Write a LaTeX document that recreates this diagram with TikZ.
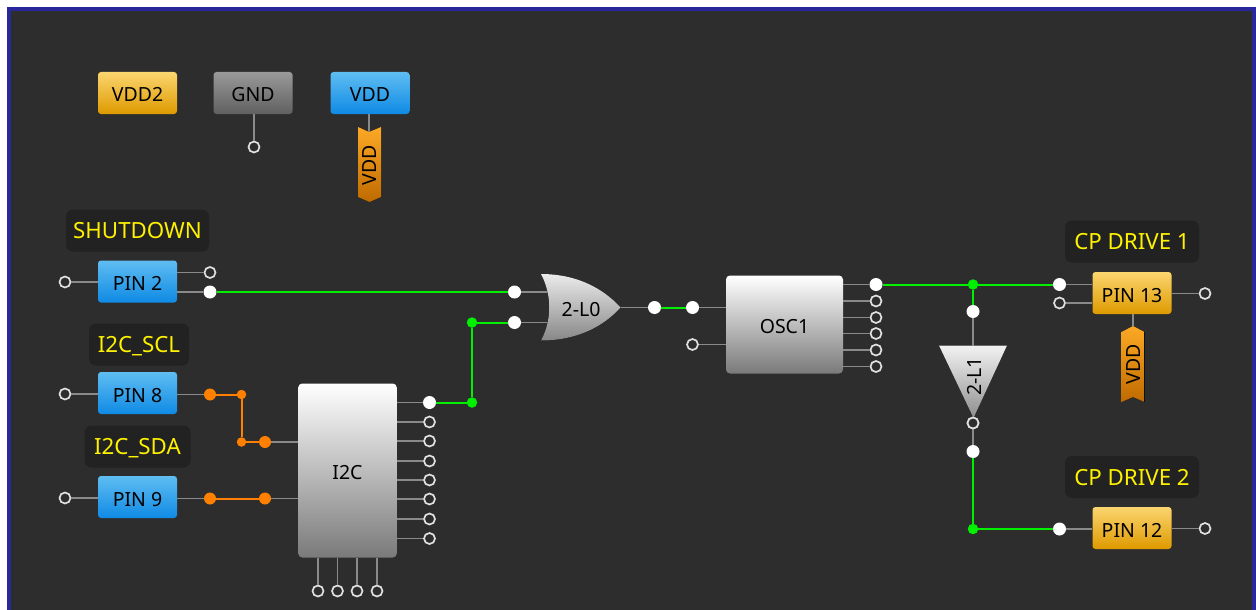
\documentclass[tikz,border=0pt]{standalone}
\usepackage{fontspec}
\setmainfont{Noto Sans}
\usetikzlibrary{calc}
\definecolor{bgc}{HTML}{2D2D2D}
\definecolor{frame}{HTML}{28289A}
\definecolor{tagc}{HTML}{222222}
\definecolor{wire}{HTML}{00F000}
\definecolor{owire}{HTML}{FF7F00}
\definecolor{stub}{HTML}{8A8A8A}
\tikzset{
 x=1pt,y=-1pt,
 rtxt/.style={font=\fontsize{19.5}{22}\selectfont,text=black,inner sep=0pt},
 txt/.style={rtxt,text height=18pt,text depth=0pt},
 boxbase/.style={rounded corners=3pt,minimum width=79pt,minimum height=42pt,inner sep=0pt,txt},
 bluebox/.style={boxbase,top color=bA,bottom color=bB,draw=none},
 orangebox/.style={boxbase,top color=oA,bottom color=oB,draw=none},
 greybox/.style={boxbase,top color=gA,bottom color=gB,draw=none},
 block/.style={rounded corners=4pt,inner sep=0pt,top color=white,bottom color=gC,draw=none,txt},
 tag/.style={rounded corners=7pt,fill=tagc,text=yellow,font=\fontsize{22.3}{26}\selectfont,minimum height=42pt,inner sep=0pt,text height=16pt,text depth=0pt},
 open/.style={circle,draw=white!88!black,line width=1.7pt,fill=bgc,minimum size=11pt,inner sep=0pt},
 solid pt/.style={circle,fill=white,minimum size=13pt,inner sep=0pt},
 gdot/.style={circle,fill=wire,minimum size=10.5pt,inner sep=0pt},
 odot/.style={circle,fill=owire,minimum size=12pt,inner sep=0pt},
 osmall/.style={circle,fill=owire,minimum size=9.5pt,inner sep=0pt},
 st/.style={draw=stub,line width=1.6pt},
 gw/.style={draw=wire,line width=2pt},
 ow/.style={draw=owire,line width=2pt},
}
\definecolor{bA}{HTML}{5FBDF2}\definecolor{bB}{HTML}{0F8AE4}
\definecolor{oA}{HTML}{FBD56F}\definecolor{oB}{HTML}{DE9A00}
\definecolor{gA}{HTML}{999999}\definecolor{gB}{HTML}{606060}
\definecolor{gC}{HTML}{7A7A7A}
\definecolor{fA}{HTML}{FDA925}\definecolor{fB}{HTML}{BF6A00}
\begin{document}
\begin{tikzpicture}
\useasboundingbox (0,0) rectangle (1256,610);
\fill[white] (0,0) rectangle (1256,610);
\fill[frame] (7,7) rectangle (1256,610);
\fill[bgc] (11,11) rectangle (1252,610);

% top row
\node[orangebox] (vdd2) at (137.5,93) {VDD2};
\node[greybox] (gnd) at (253,93) {GND};
\node[bluebox] (vdd) at (370,93) {VDD};
\node[open] (gndp) at (254,147) {};
\draw[st] (gnd.south -| gndp) -- (gndp);
\coordinate (flagA) at (369,127);
\draw[st] (vdd.south -| flagA) -- (flagA |- 0,132);
\fill[top color=fA,bottom color=fB] (358,127) -- (369,132) -- (381,127) -- (381,197) -- (369.5,202) -- (358,197) -- cycle;
\node[rotate=90,rtxt] (flagAt) at (370,165) {VDD};

% labels
\node[tag,minimum width=143pt] (t1) at (137.5,230.5) {SHUTDOWN};
\node[tag,minimum width=100pt] (t2) at (139,344.5) {I2C\_SCL};
\node[tag,minimum width=106pt] (t3) at (137.5,446.5) {I2C\_SDA};
\node[tag,minimum width=134pt] (t4) at (1132,241.5) {CP DRIVE 1};
\node[tag,minimum width=134pt] (t5) at (1132,477) {CP DRIVE 2};

% pins left
\node[bluebox] (p2) at (137.5,281.5) {PIN 2};
\node[bluebox] (p8) at (137.5,393) {PIN 8};
\node[bluebox] (p9) at (137.5,497) {PIN 9};
\node[open] (p2l) at (65,282) {};
\node[open] (p8l) at (65,394) {};
\node[open] (p9l) at (65,498) {};
\draw[st] (p2l) -- (p2.west |- p2l);
\draw[st] (p8l) -- (p8.west |- p8l);
\draw[st] (p9l) -- (p9.west |- p9l);
\node[open] (p2a) at (210,272.5) {};
\node[solid pt] (p2b) at (210,292) {};
\draw[st] (p2.east |- p2a) -- (p2a);
\draw[st] (p2.east |- p2b) -- (p2b);

% I2C
\node[block,minimum width=98.5pt,minimum height=174pt] (i2c) at (347.5,470.5) {I2C};
\foreach \y/\n in {422/a,441/b,461/c,480/d,499/e,519/f,538.5/g}{
 \node[open] (i\n) at (429.5,\y) {};
 \draw[st] (i2c.east |- i\n) -- (i\n);
}
\node[solid pt] (io) at (429.5,402.5) {};
\draw[st] (i2c.east |- io) -- (io);
\foreach \x/\n in {318/a,337.5/b,357/c,377/d}{
 \node[open] (b\n) at (\x,591) {};
 \draw[st] (i2c.south -| b\n) -- (b\n);
}
% orange
\node[odot] (o1) at (210,394.5) {};
\node[osmall] (o2) at (241.5,394.5) {};
\node[osmall] (o3) at (241.5,442) {};
\node[odot] (o4) at (265,442) {};
\node[odot] (o5) at (210,498.5) {};
\node[odot] (o6) at (265,498.5) {};
\draw[st] (p8.east |- o1) -- (o1);
\draw[st] (p9.east |- o5) -- (o5);
\draw[st] (o4) -- (i2c.west |- o4);
\draw[st] (o6) -- (i2c.west |- o6);
\draw[ow] (o1) -- (o2);
\draw[ow] (o2) -- (o3);
\draw[ow] (o3) -- (o4);
\draw[ow] (o5) -- (o6);

% OR gate
\node[solid pt] (ga) at (514.5,292) {};
\node[solid pt] (gb) at (514.5,322.5) {};
\coordinate (gaE) at (549,292);
\coordinate (gbE) at (549,322.5);
\draw[st] (ga) -- (gaE);
\draw[st] (gb) -- (gbE);
\fill[top color=white!92!black,bottom color=gC!90!white] (541,274) .. controls (575,274) and (602,287) .. (620.5,307.5) .. controls (602,328) and (575,340.5) .. (541,340.5) .. controls (552,320) and (552,295) .. (541,274) -- cycle;
\node[txt] (orl) at (581,307.5) {2-L0};
\coordinate (orOut) at (620.5,307.5);
\node[solid pt] (gout) at (654.5,307.5) {};
\draw[st] (orOut) -- (gout);

% I2C out to gate
\node[gdot] (j1) at (472,402.5) {};
\node[gdot] (j2) at (472,322.5) {};
\draw[gw] (io) -- (j1);
\draw[gw] (j1) -- (j2);
\draw[gw] (j2) -- (gb);
\draw[gw] (p2b) -- (ga);

% OSC
\node[block,minimum width=117pt,minimum height=98pt] (osc) at (784.5,324.5) {OSC1};
\node[solid pt] (oa) at (692.5,307.5) {};
\node[open] (ob) at (692.5,344.5) {};
\draw[st] (oa) -- (osc.west |- oa);
\draw[st] (ob) -- (osc.west |- ob);
\draw[gw] (gout) -- (oa);
\node[solid pt] (oo) at (876,284.5) {};
\draw[st] (osc.east |- oo) -- (oo);
\foreach \y/\n in {301/a,317.5/b,333.5/c,350/d,366.5/e}{
 \node[open] (q\n) at (876,\y) {};
 \draw[st] (osc.east |- q\n) -- (q\n);
}

% pins right
\node[orangebox] (p13) at (1132,293) {PIN 13};
\node[orangebox] (p12) at (1132,528) {PIN 12};
\node[solid pt] (pa) at (1059.5,284.5) {};
\node[open] (pb) at (1059.5,303) {};
\node[solid pt] (pc) at (1059.5,529) {};
\node[open] (pr1) at (1205,293.5) {};
\node[open] (pr2) at (1205,528.5) {};
\draw[st] (pa) -- (p13.west |- pa);
\draw[st] (pb) -- (p13.west |- pb);
\draw[st] (pc) -- (p12.west |- pc);
\draw[st] (p13.east |- pr1) -- (pr1);
\draw[st] (p12.east |- pr2) -- (pr2);
\coordinate (flagB) at (1133,326);
\draw[st] (p13.south -| flagB) -- (flagB);
\fill[top color=fA,bottom color=fB] (1133,326) -- (1144.5,332) -- (1144.5,402) -- (1133,397) -- (1121.5,402) -- (1121.5,332) -- cycle;
\node[rotate=90,rtxt] (flagBt) at (1134,364) {VDD};

% buffer
\node[gdot] (j3) at (973,284.5) {};
\node[solid pt] (bi) at (973,311.5) {};
\node[open] (bo) at (973,423) {};
\node[solid pt] (bn) at (973,451.5) {};
\node[gdot] (j4) at (973,529) {};
\draw[st] (bi) -- (973,346);
\draw[st] (bo) -- (bn);
\fill[top color=white!95!black,bottom color=gC!85!white] (939,345.5) -- (1007,345.5) -- (973.5,418) -- cycle;
\node[rotate=90,rtxt] (bl) at (974,376.5) {2-L1};
\node[open] (bo2) at (bo) {};
\draw[gw] (oo) -- (j3);
\draw[gw] (j3) -- (pa);
\draw[gw] (j3) -- (bi);
\draw[gw] (bn) -- (j4);
\draw[gw] (j4) -- (pc);
\end{tikzpicture}
\end{document}
